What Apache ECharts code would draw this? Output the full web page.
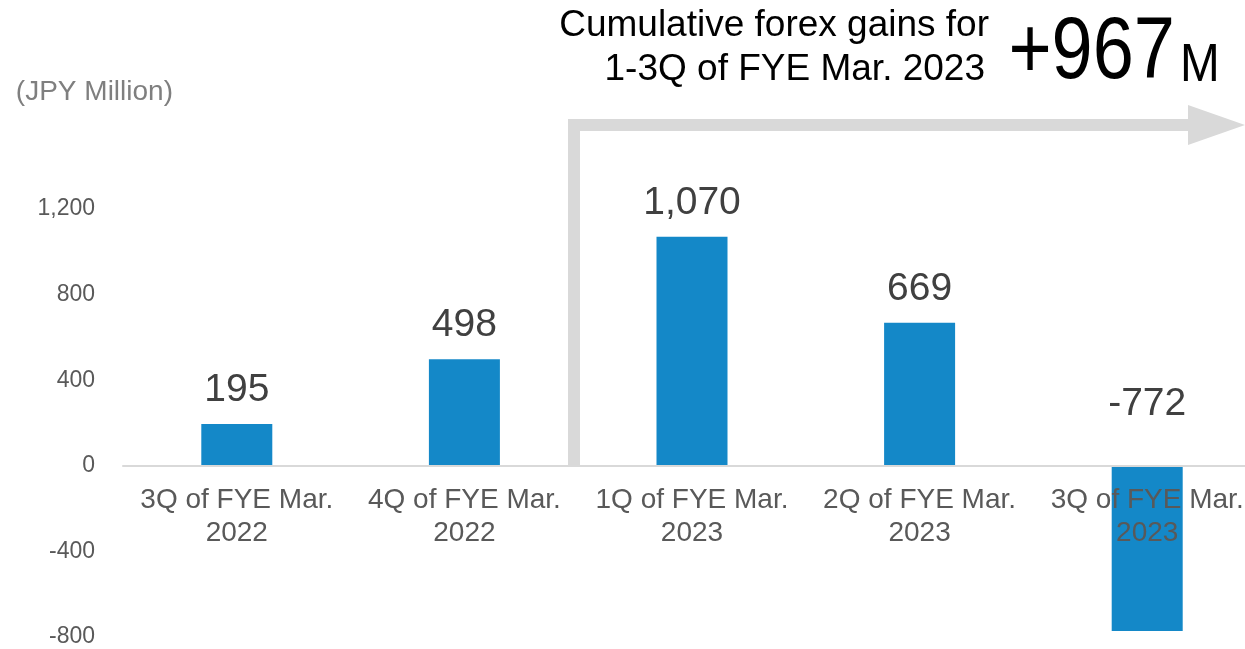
<!DOCTYPE html>
<html>
<head>
<meta charset="utf-8">
<script src="https://cdn.jsdelivr.net/npm/echarts@6/dist/echarts.min.js"></script>
<style>
  html, body { margin: 0; padding: 0; background: #fff; }
  #chart { width: 1245px; height: 649px; }
</style>
</head>
<body>
<div id="chart"></div>
<script>
// data
var categories = ['3Q of FYE Mar.\n2022', '4Q of FYE Mar.\n2022', '1Q of FYE Mar.\n2023', '2Q of FYE Mar.\n2023', '3Q of FYE Mar.\n2023'];
var forexGains = [195, 498, 1070, 669, -772];
var yTicks = [-800, -400, 0, 400, 800, 1200];

var chart = echarts.init(document.getElementById('chart'));
var baseFont = '"Liberation Sans", Arial, sans-serif';
var grey = '#d9d9d9';

// grid: top 209, bottom at 637 -> zero line sits at ~466
var option = {
  backgroundColor: '#fff',
  animation: false,
  grid: { left: 123, right: -16, top: 209, bottom: 12, containLabel: false, outerBoundsMode: 'none' },
  xAxis: {
    type: 'category',
    data: categories,
    position: 'bottom',
    offset: -171,
    z: 3,
    axisLine: { onZero: false, lineStyle: { color: grey, width: 2 } },
    axisTick: { show: false },
    axisLabel: {
      interval: 0,
      margin: 18,
      color: '#595959',
      fontSize: 28,
      lineHeight: 33,
      fontFamily: baseFont
    }
  },
  yAxis: {
    type: 'value',
    min: yTicks[0],
    max: yTicks[yTicks.length - 1],
    interval: 400,
    splitLine: { show: false },
    axisLine: { show: false },
    axisTick: { show: false },
    axisLabel: {
      margin: 28,
      color: '#595959',
      fontSize: 23,
      fontFamily: baseFont,
      formatter: function (v) { return v.toLocaleString('en-US'); }
    }
  },
  series: [{
    type: 'bar',
    barWidth: 71,
    itemStyle: { color: '#1488c8' },
    label: {
      show: true,
      position: 'top',
      distance: 14,
      color: '#404040',
      fontSize: 39,
      fontFamily: baseFont,
      formatter: function (p) { return p.value.toLocaleString('en-US'); }
    },
    data: forexGains.map(function (v) {
      return v < 0 ? { value: v, label: { distance: 42 } } : v;
    })
  }],
  graphic: [
    { type: 'rect', shape: { x: 568, y: 119, width: 12, height: 347 }, style: { fill: grey }, z: 1 },
    { type: 'rect', shape: { x: 568, y: 119, width: 622, height: 12 }, style: { fill: grey }, z: 1 },
    { type: 'polygon', shape: { points: [[1188, 105], [1245, 125], [1188, 145]] }, style: { fill: grey }, z: 1 },
    { type: 'text', x: 173, y: 92, style: { text: '(JPY Million)', align: 'right', verticalAlign: 'middle', fill: '#7f7f7f', font: '28px ' + baseFont } },
    { type: 'text', x: 989, y: 26, style: { text: 'Cumulative forex gains for', align: 'right', verticalAlign: 'middle', fill: '#000', font: '37px ' + baseFont } },
    { type: 'text', x: 985, y: 70, style: { text: '1-3Q of FYE Mar. 2023', align: 'right', verticalAlign: 'middle', fill: '#000', font: '37px ' + baseFont } },
    { type: 'text', x: 1175, y: 54, scaleX: 0.85, style: { text: '+967', align: 'right', verticalAlign: 'middle', fill: '#000', font: '87px ' + baseFont } },
    { type: 'text', x: 1180, y: 66, scaleX: 0.9, style: { text: 'M', align: 'left', verticalAlign: 'middle', fill: '#000', font: '53px ' + baseFont } }
  ]
};

chart.setOption(option);
</script>
</body>
</html>
